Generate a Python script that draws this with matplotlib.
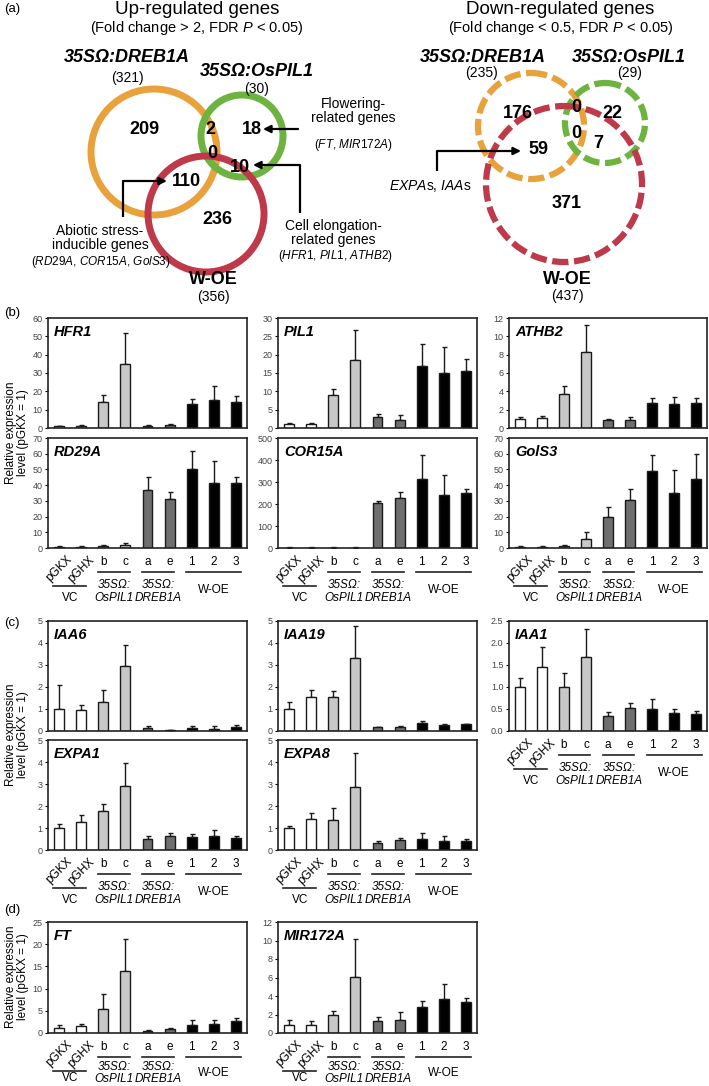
import numpy as np
import matplotlib
matplotlib.use('Agg')
import matplotlib.pyplot as plt
from matplotlib.patches import Circle
from matplotlib.transforms import blended_transform_factory

plt.rcParams['font.family'] = ['Liberation Sans', 'DejaVu Sans']
plt.rcParams['mathtext.fontset'] = 'custom'
plt.rcParams['mathtext.rm'] = 'Liberation Sans'
plt.rcParams['mathtext.it'] = 'Liberation Sans:italic'
plt.rcParams['mathtext.bf'] = 'Liberation Sans:bold'

# ---------------- data ----------------
lines = ['pGKX', 'pGHX', 'b', 'c', 'a', 'e', '1', '2', '3']
groups = ['VC', '35SΩ:\nOsPIL1', '35SΩ:\nDREB1A', 'W-OE']

up_totals = [321, 30, 356]          # DREB1A, OsPIL1, W-OE
up_regions = [209, 2, 18, 0, 10, 110, 236]   # D, D&P, P, D&P&W, P&W, D&W, W
down_totals = [235, 29, 437]
down_regions = [176, 0, 22, 0, 7, 59, 371]

HFR1 = [0.9, 1.3, 14.2, 34.7, 1.3, 1.45, 13.3, 15.1, 14.2]
HFR1_sd = [0.2, 0.3, 3.6, 17.1, 0.3, 0.55, 2.7, 7.8, 3.1]
PIL1 = [1.0, 1.0, 9.0, 18.6, 2.9, 2.2, 17.0, 15.0, 15.5]
PIL1_sd = [0.3, 0.5, 1.6, 8.0, 0.9, 1.4, 5.9, 7.1, 3.3]
ATHB2 = [1.0, 1.1, 3.7, 8.3, 0.85, 0.9, 2.7, 2.6, 2.7]
ATHB2_sd = [0.25, 0.2, 0.9, 2.9, 0.1, 0.3, 0.6, 0.8, 0.6]
RD29A = [0.8, 0.8, 1.2, 2.0, 36.6, 31.0, 50.0, 41.4, 41.4]
RD29A_sd = [0.3, 0.3, 0.4, 1.0, 8.8, 4.8, 11.5, 14.0, 4.0]
COR15A = [2, 2, 2, 2, 205, 228, 312, 243, 250]
COR15A_sd = [1, 1, 1, 1, 7, 26, 111, 88, 18]
GolS3 = [0.8, 0.7, 1.5, 5.5, 19.6, 30.6, 49.2, 34.9, 44.0]
GolS3_sd = [0.3, 0.3, 0.6, 4.5, 6.4, 7.1, 10.2, 14.9, 16.0]
IAA6 = [1.0, 0.95, 1.3, 2.95, 0.12, 0.03, 0.12, 0.1, 0.18]
IAA6_sd = [1.1, 0.25, 0.55, 0.95, 0.1, 0.02, 0.13, 0.12, 0.1]
IAA19 = [1.0, 1.53, 1.56, 3.33, 0.16, 0.19, 0.37, 0.29, 0.3]
IAA19_sd = [0.3, 0.35, 0.26, 1.43, 0.04, 0.03, 0.1, 0.03, 0.02]
IAA1 = [1.0, 1.46, 1.0, 1.68, 0.35, 0.52, 0.5, 0.41, 0.38]
IAA1_sd = [0.2, 0.44, 0.32, 0.64, 0.09, 0.11, 0.23, 0.09, 0.07]
EXPA1 = [1.0, 1.27, 1.76, 2.9, 0.5, 0.65, 0.57, 0.64, 0.53]
EXPA1_sd = [0.18, 0.3, 0.34, 1.07, 0.15, 0.12, 0.15, 0.28, 0.12]
EXPA8 = [1.0, 1.4, 1.38, 2.85, 0.33, 0.46, 0.49, 0.43, 0.41]
EXPA8_sd = [0.1, 0.28, 0.52, 1.58, 0.07, 0.07, 0.27, 0.19, 0.08]
FT = [1.1, 1.5, 5.4, 14.0, 0.45, 0.8, 1.9, 2.1, 2.7]
FT_sd = [0.8, 0.6, 3.3, 7.2, 0.15, 0.3, 1.1, 0.8, 0.6]
MIR172A = [0.9, 0.87, 2.0, 6.07, 1.27, 1.45, 2.8, 3.7, 3.3]
MIR172A_sd = [0.5, 0.4, 0.36, 4.13, 0.43, 0.8, 0.65, 1.6, 0.5]

# ---------------- figure ----------------
W, H = 709, 1086
fig = plt.figure(figsize=(W / 100, H / 100), dpi=100)
ov = fig.add_axes([0, 0, 1, 1])
ov.set_xlim(0, W)
ov.set_ylim(H, 0)
ov.axis('off')

ORANGE = '#E9A23B'
GREEN = '#6DB33F'
RED = '#BE3A4A'
BOLD13 = dict(fontsize=13, fontweight='bold', ha='center', va='center')


def arrow(pts):
    if len(pts) > 2:
        xs = [p[0] for p in pts[:-1]]
        ys = [p[1] for p in pts[:-1]]
        ov.plot(xs, ys, color='black', lw=1.6, solid_capstyle='butt')
    ov.annotate('', xy=pts[-1], xytext=pts[-2],
                arrowprops=dict(arrowstyle='-|>', lw=1.6, color='black',
                                mutation_scale=11, shrinkA=0, shrinkB=0))


# panel letters
for lab, (x, y) in {'(a)': (12, 9), '(b)': (12, 313), '(c)': (12, 623), '(d)': (12, 910)}.items():
    ov.text(x, y, lab, fontsize=9.5, ha='center', va='center')

# ---- Up-regulated Venn ----
ov.text(197, 9, 'Up-regulated genes', fontsize=13.5, ha='center', va='center')
ov.text(197, 28, '(Fold change > 2, FDR $\\mathit{P}$ < 0.05)', fontsize=10.5, ha='center', va='center')
for (cx, cy, r, col) in [(154, 152, 63, ORANGE), (242, 136, 41, GREEN), (206, 214, 58, RED)]:
    ov.add_patch(Circle((cx, cy), r, fill=False, ec=col, lw=5))
ov.text(127, 58, '35SΩ:DREB1A', style='italic', **BOLD13)
ov.text(127, 78, f'({up_totals[0]})', fontsize=10, ha='center', va='center')
ov.text(257, 71, '35SΩ:OsPIL1', style='italic', **BOLD13)
ov.text(257, 89, f'({up_totals[1]})', fontsize=10, ha='center', va='center')
ov.text(213, 280, 'W-OE', **BOLD13)
ov.text(213, 297, f'({up_totals[2]})', fontsize=10, ha='center', va='center')
up_pos = [(144, 129), (210, 129), (252, 129), (212, 154), (240, 167), (186, 181), (217, 219)]
for (x, y), v in zip(up_pos, up_regions):
    ov.text(x, y, str(v), **BOLD13)
arrow([(298, 129), (263, 129)])
arrow([(300, 213), (300, 165), (253, 165)])
arrow([(123, 217), (123, 181), (167, 181)])
ov.text(353, 111, 'Flowering-\nrelated genes', fontsize=10, ha='center', va='center', linespacing=1.0)
ov.text(353, 145, '($\\mathit{FT}$, $\\mathit{MIR172A}$)', fontsize=8.5, ha='center', va='center')
ov.text(333, 233, 'Cell elongation-\nrelated genes', fontsize=10, ha='center', va='center', linespacing=1.0)
ov.text(335, 256, '($\\mathit{HFR1}$, $\\mathit{PIL1}$, $\\mathit{ATHB2}$)', fontsize=8.5, ha='center', va='center')
ov.text(100, 238, 'Abiotic stress-\ninducible genes', fontsize=10, ha='center', va='center', linespacing=1.0)
ov.text(101, 262, '($\\mathit{RD29A}$, $\\mathit{COR15A}$, $\\mathit{GolS3}$)', fontsize=8.5, ha='center', va='center')

# ---- Down-regulated Venn ----
ov.text(560, 9, 'Down-regulated genes', fontsize=13.5, ha='center', va='center')
ov.text(561, 28, '(Fold change < 0.5, FDR $\\mathit{P}$ < 0.05)', fontsize=10.5, ha='center', va='center')
for (cx, cy, r, col) in [(531, 126, 53, ORANGE), (605, 123, 40, GREEN), (564, 184, 78, RED)]:
    ov.add_patch(Circle((cx, cy), r, fill=False, ec=col, lw=4.5, ls=(0, (2.6, 0.9))))
ov.text(483, 57, '35SΩ:DREB1A', style='italic', **BOLD13)
ov.text(482, 73, f'({down_totals[0]})', fontsize=10, ha='center', va='center')
ov.text(629, 57, '35SΩ:OsPIL1', style='italic', **BOLD13)
ov.text(630, 73, f'({down_totals[1]})', fontsize=10, ha='center', va='center')
ov.text(567, 280, 'W-OE', **BOLD13)
ov.text(567, 296, f'({down_totals[2]})', fontsize=10, ha='center', va='center')
down_pos = [(518, 114), (576, 107), (612, 114), (576, 133), (598, 143), (538, 149), (567, 204)]
for (x, y), v in zip(down_pos, down_regions):
    ov.text(x, y, str(v), **BOLD13)
arrow([(437, 171), (437, 151), (521, 151)])
ov.text(430, 186, '$\\mathit{EXPA}$s, $\\mathit{IAA}$s', fontsize=10, ha='center', va='center')

# ylabels
for yc in (433, 735, 977):
    ov.text(17, yc, 'Relative expression\nlevel (pGKX = 1)', fontsize=8.5, rotation=90,
            ha='center', va='center', linespacing=1.05)

# ---------------- bar panels ----------------
bar_colors = ['white', 'white', '#c8c8c8', '#c8c8c8', '#6f6f6f', '#6f6f6f', 'black', 'black', 'black']
COLS = [(48, 247), (278, 477), (509, 707)]


def panel(col, top, bottom, name, vals, sd, ymax, step, fmt='{:g}', xlab=False, tight=False):
    l, r = COLS[col]
    ax = fig.add_axes([l / W, 1 - bottom / H, (r - l) / W, (bottom - top) / H])
    hpx = bottom - top
    x = np.arange(len(lines))
    ax.errorbar(x, vals, yerr=[np.zeros(len(vals)), sd], fmt='none', ecolor='#1a1a1a',
                elinewidth=1.0, capsize=1.8, capthick=1.0, zorder=1)
    ax.bar(x, vals, width=0.45, color=bar_colors, edgecolor='#1a1a1a', linewidth=1.0, zorder=2)
    ax.set_xlim(-0.5, 8.5)
    ax.set_ylim(0, ymax)
    ticks = np.arange(0, ymax + step / 2, step)
    ax.set_yticks(ticks)
    ax.set_yticklabels([fmt.format(t) for t in ticks])
    ax.set_xticks([])
    ax.tick_params(axis='y', labelsize=6.5, length=2, width=0.8, pad=2,
                   labelcolor='#444', direction='out')
    for s in ax.spines.values():
        s.set_linewidth(1.2)
        s.set_color('#222')
    ax.text(0.03, 1 - 14 / hpx, name, transform=ax.transAxes, fontsize=10.5,
            fontweight='bold', style='italic', va='center', ha='left')
    if xlab:
        tr = blended_transform_factory(ax.transData, ax.transAxes)
        if tight:
            g_y, vc_y, woe_y, ls = -40, -45, -40, 0.95
        else:
            g_y, vc_y, woe_y, ls = -43.5, -50, -42, 1.1
        for i, lab in enumerate(lines):
            if i < 2:
                ax.annotate(lab, xy=(i, 0), xycoords=tr, xytext=(0, -21),
                            textcoords='offset pixels', rotation=45, ha='center', va='center',
                            rotation_mode='anchor', fontsize=8.5, annotation_clip=False)
            else:
                ax.annotate(lab, xy=(i, 0), xycoords=tr, xytext=(0, -14),
                            textcoords='offset pixels', ha='center', va='center',
                            fontsize=8.5, annotation_clip=False)
        yl = -24 / hpx
        for (x0, x1) in [(1.75, 3.2), (3.75, 5.2), (5.75, 8.25)]:
            ax.plot([x0, x1], [yl, yl], transform=tr, clip_on=False, color='#222', lw=1.2)
        yv = -38 / hpx
        ax.plot([-0.27, 1.22], [yv, yv], transform=tr, clip_on=False, color='#222', lw=1.2)
        ax.annotate(groups[0], xy=(0.5, 0), xycoords=tr, xytext=(0, vc_y), textcoords='offset pixels',
                    ha='center', va='center', fontsize=8.5, annotation_clip=False)
        for gx, g in [(2.5, groups[1]), (4.5, groups[2])]:
            ax.annotate(g, xy=(gx, 0), xycoords=tr, xytext=(0, g_y), textcoords='offset pixels',
                        ha='center', va='center', fontsize=8.5, style='italic',
                        linespacing=ls, annotation_clip=False)
        ax.annotate(groups[3], xy=(7, 0), xycoords=tr, xytext=(0, woe_y), textcoords='offset pixels',
                    ha='center', va='center', fontsize=8.5, annotation_clip=False)
    return ax


panel(0, 318, 428, 'HFR1', HFR1, HFR1_sd, 60, 10)
panel(1, 318, 428, 'PIL1', PIL1, PIL1_sd, 30, 5)
panel(2, 318, 428, 'ATHB2', ATHB2, ATHB2_sd, 12, 2)
panel(0, 438, 548, 'RD29A', RD29A, RD29A_sd, 70, 10, xlab=True)
panel(1, 438, 548, 'COR15A', COR15A, COR15A_sd, 500, 100, xlab=True)
panel(2, 438, 548, 'GolS3', GolS3, GolS3_sd, 70, 10, xlab=True)

panel(0, 621, 731, 'IAA6', IAA6, IAA6_sd, 5, 1)
panel(1, 621, 731, 'IAA19', IAA19, IAA19_sd, 5, 1)
panel(2, 621, 731, 'IAA1', IAA1, IAA1_sd, 2.5, 0.5, fmt='{:.1f}', xlab=True)
panel(0, 740, 850, 'EXPA1', EXPA1, EXPA1_sd, 5, 1, xlab=True)
panel(1, 740, 850, 'EXPA8', EXPA8, EXPA8_sd, 5, 1, xlab=True)

panel(0, 922, 1033, 'FT', FT, FT_sd, 25, 5, xlab=True, tight=True)
panel(1, 922, 1033, 'MIR172A', MIR172A, MIR172A_sd, 12, 2, xlab=True, tight=True)

fig.savefig('out.png', dpi=100)
